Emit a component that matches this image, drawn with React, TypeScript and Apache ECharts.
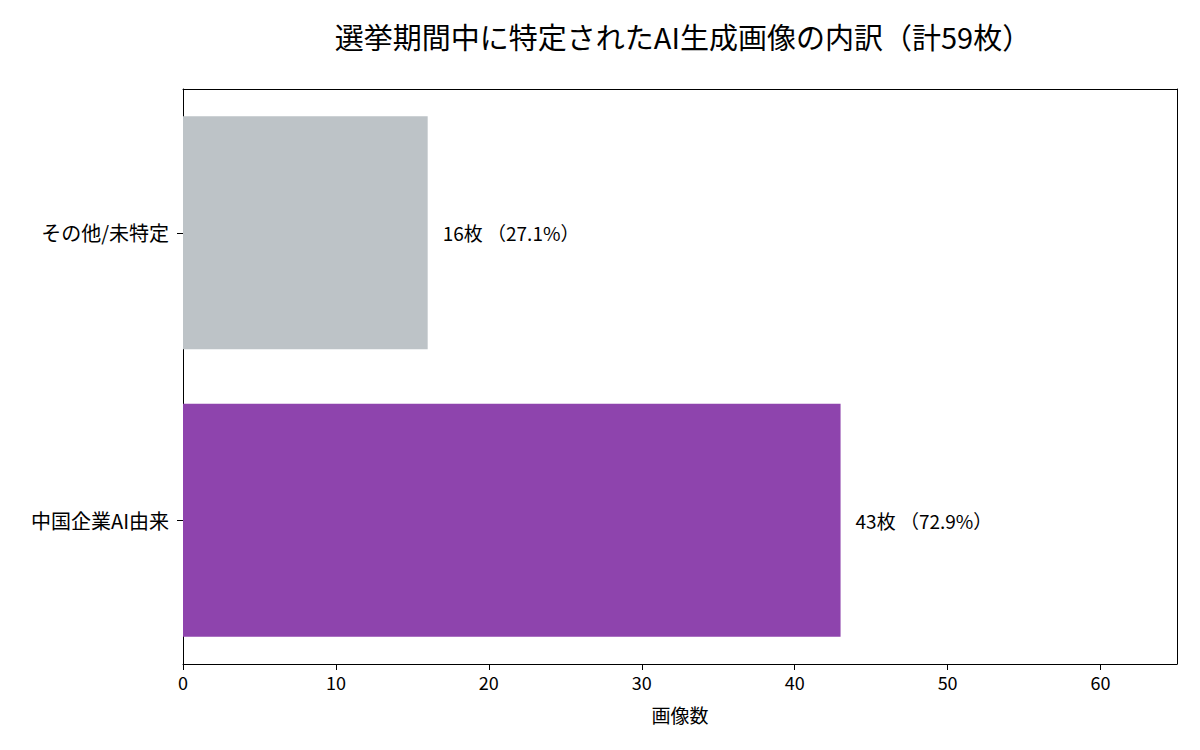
import React, { useEffect, useRef } from "react";
import * as echarts from "echarts";

const categories = ["中国企業AI由来", "その他/未特定"];
const counts = [43, 16];
const colors = ["#8e44ad", "#bdc3c7"];
const total = 59;
const xTicks = [0, 10, 20, 30, 40, 50, 60];

const FONT = "'Noto Sans CJK JP', 'Noto Sans', sans-serif";

export default function App() {
  const ref = useRef<HTMLDivElement>(null);
  useEffect(() => {
    if (!ref.current) return;
    const chart = echarts.init(ref.current, undefined, { renderer: "svg" });
    chart.setOption({
      animation: false,
      backgroundColor: "#ffffff",
      textStyle: { fontFamily: FONT, color: "#000" },
      title: {
        text: `選挙期間中に特定されたAI生成画像の内訳（計${total}枚）`,
        left: 678,
        textAlign: "center",
        top: 16,
        textStyle: { fontFamily: FONT, fontSize: 29, fontWeight: "normal", color: "#000" },
      },
      grid: { left: 183, right: 23, top: 89, bottom: 86 },
      xAxis: [
        {
          type: "value",
          min: 0,
          max: 65,
          interval: 10,
          position: "bottom",
          name: "画像数",
          nameLocation: "middle",
          nameGap: 41,
          nameTextStyle: { fontFamily: FONT, fontSize: 19, color: "#000" },
          axisLine: { show: true, onZero: false, lineStyle: { color: "#000", width: 1 } },
          axisTick: { show: true, length: 6, customValues: xTicks, lineStyle: { color: "#000" } },
          axisLabel: {
            fontFamily: FONT,
            fontSize: 18,
            color: "#000",
            margin: 9,
            customValues: xTicks,
            formatter: (v: number) => (xTicks.includes(v) ? String(v) : ""),
          },
          splitLine: { show: false },
        },
        {
          type: "value",
          min: 0,
          max: 65,
          position: "top",
          axisLine: { show: true, onZero: false, lineStyle: { color: "#000", width: 1 } },
          axisTick: { show: false },
          axisLabel: { show: false },
          splitLine: { show: false },
        },
      ],
      yAxis: [
        {
          type: "category",
          data: categories,
          position: "left",
          axisLine: { show: true, onZero: false, lineStyle: { color: "#000", width: 1 } },
          axisTick: { show: true, alignWithLabel: true, length: 6, lineStyle: { color: "#000" } },
          axisLabel: { fontFamily: FONT, fontSize: 20, color: "#000", margin: 14 },
        },
        {
          type: "category",
          data: categories,
          position: "right",
          axisLine: { show: true, onZero: false, lineStyle: { color: "#000", width: 1 } },
          axisTick: { show: false },
          axisLabel: { show: false },
        },
      ],
      series: [
        {
          type: "bar",
          xAxisIndex: 0,
          yAxisIndex: 0,
          barWidth: 233,
          data: counts.map((v, i) => ({ value: v, itemStyle: { color: colors[i] } })),
          label: {
            show: true,
            position: "right",
            distance: 15,
            fontFamily: FONT,
            fontSize: 19,
            color: "#000",
            formatter: (p: any) => `${p.value}枚 （${((p.value / total) * 100).toFixed(1)}%）`,
          },
        },
      ],
    });
    return () => chart.dispose();
  }, []);
  return (
    <div
      ref={ref}
      style={{ position: "absolute", left: 0, top: 0, width: 1200, height: 750 }}
    />
  );
}
